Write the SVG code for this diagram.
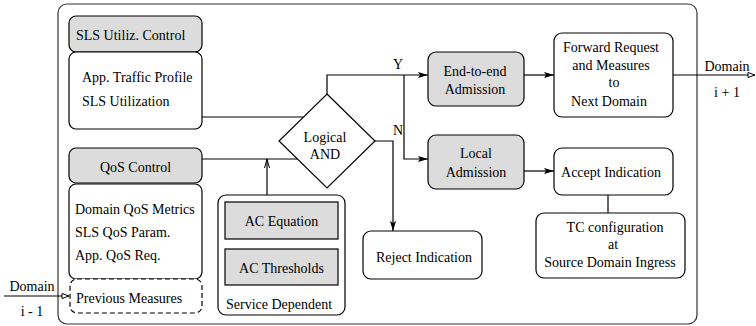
<svg xmlns="http://www.w3.org/2000/svg" width="756" height="326" viewBox="0 0 756 326">
<style>
text{font-family:"Liberation Serif",Tinos,"Times New Roman","DejaVu Serif",serif;font-size:14px;fill:#000}
.c{text-anchor:middle}
.box{fill:#fff;stroke:#000;stroke-width:1.2}
.gray{fill:#dcdcdc;stroke:#000;stroke-width:1.2}
.dash{fill:#fff;stroke:#000;stroke-width:1.2;stroke-dasharray:5 3}
.ln{fill:none;stroke:#000;stroke-width:1.2}
</style>
<defs>
<marker id="ah" markerUnits="userSpaceOnUse" markerWidth="12" markerHeight="8" refX="10" refY="3" orient="auto">
<path d="M0,0 L10,3 L0,6 L2,3 z" fill="#000"/>
</marker>
<marker id="oh" markerUnits="userSpaceOnUse" markerWidth="12" markerHeight="8" refX="8" refY="3" orient="auto">
<path d="M1,0.5 L8,3 L1,5.5 z" fill="#fff" stroke="#000" stroke-width="1"/>
</marker>
<marker id="sh" markerUnits="userSpaceOnUse" markerWidth="12" markerHeight="8" refX="9" refY="3" orient="auto">
<path d="M0,0.5 L9,3 L0,5.5" fill="none" stroke="#000" stroke-width="1"/>
</marker>
</defs>
<rect id="frame" x="58" y="4" width="639" height="320" rx="9" fill="none" stroke="#333" stroke-width="1.2"/>
<g id="connectors">
<path class="ln" d="M202,117 H303"/>
<path class="ln" d="M202,159 H297"/>
<path class="ln" d="M267,195 V159" marker-end="url(#sh)"/>
<path class="ln" d="M327,94 V75 H428" marker-end="url(#ah)"/>
<path class="ln" d="M404,75 V159 H428" marker-end="url(#ah)"/>
<path class="ln" d="M375,141 H393 V231" marker-end="url(#ah)"/>
<path class="ln" d="M524,75 H554" marker-end="url(#ah)"/>
<path class="ln" d="M524,171 H554" marker-end="url(#ah)"/>
<path class="ln" d="M608,195 V213"/>
<path class="ln" d="M673,75 H755" marker-end="url(#oh)"/>
<path class="ln" d="M4,296 H69" marker-end="url(#oh)"/>
</g>
<g id="labels">
<text x="398" y="69" class="c">Y</text>
<text x="398" y="135" class="c">N</text>
<text x="727" y="71" class="c">Domain</text>
<text x="727" y="97" class="c">i + 1</text>
<text x="32" y="291" class="c">Domain</text>
<text x="32" y="316" class="c">i - 1</text>
</g>
<g id="sls-control">
<rect class="gray" x="69" y="16" width="133" height="36" rx="7"/>
<text x="76" y="40">SLS Utiliz. Control</text>
</g>
<g id="sls-params">
<rect class="box" x="69" y="52" width="133" height="77" rx="7"/>
<text x="82" y="82">App. Traffic Profile</text>
<text x="82" y="105.5">SLS Utilization</text>
</g>
<g id="qos-control">
<rect class="gray" x="69" y="148" width="133" height="35" rx="7"/>
<text x="135.5" y="171.5" class="c">QoS Control</text>
</g>
<g id="qos-params">
<rect class="box" x="69" y="184" width="133" height="95" rx="7"/>
<text x="75" y="213.5">Domain QoS Metrics</text>
<text x="75" y="237">SLS QoS Param.</text>
<text x="75" y="260">App. QoS Req.</text>
</g>
<g id="previous-measures">
<rect class="dash" x="70" y="279" width="132" height="34" rx="7"/>
<text x="76" y="303">Previous Measures</text>
</g>
<g id="service-dependent">
<rect class="box" x="218" y="195" width="127" height="120" rx="8"/>
<rect class="gray" x="225" y="202" width="113" height="37"/>
<text x="281.5" y="226" class="c">AC Equation</text>
<rect class="gray" x="225" y="249" width="113" height="36"/>
<text x="281.5" y="273" class="c">AC Thresholds</text>
<text x="226" y="309">Service Dependent</text>
</g>
<g id="logical-and">
<polygon points="327,94 375,141 327,188 279,141" fill="#fff" stroke="#000" stroke-width="1.2"/>
<text x="325" y="142" class="c">Logical</text>
<text x="325" y="159" class="c">AND</text>
</g>
<g id="end-to-end">
<rect class="gray" x="428" y="52" width="96" height="54" rx="8"/>
<text x="475" y="76" class="c">End-to-end</text>
<text x="475" y="94" class="c">Admission</text>
</g>
<g id="forward">
<rect class="box" x="554" y="33" width="119" height="84" rx="8"/>
<text x="611" y="52" class="c">Forward Request</text>
<text x="611" y="70" class="c">and Measures</text>
<text x="614" y="87" class="c">to</text>
<text x="609" y="106" class="c">Next Domain</text>
</g>
<g id="local">
<rect class="gray" x="428" y="135" width="96" height="54" rx="8"/>
<text x="476" y="158" class="c">Local</text>
<text x="476" y="177" class="c">Admission</text>
</g>
<g id="accept">
<rect class="box" x="554" y="148" width="119" height="47" rx="8"/>
<text x="611" y="177" class="c">Accept Indication</text>
</g>
<g id="tc-config">
<rect class="box" x="536" y="213" width="149" height="65" rx="8"/>
<text x="615" y="232" class="c">TC configuration</text>
<text x="613" y="249" class="c">at</text>
<text x="610" y="267" class="c">Source Domain Ingress</text>
</g>
<g id="reject">
<rect class="box" x="363" y="231" width="119" height="48" rx="8"/>
<text x="424" y="262" class="c">Reject Indication</text>
</g>
</svg>
